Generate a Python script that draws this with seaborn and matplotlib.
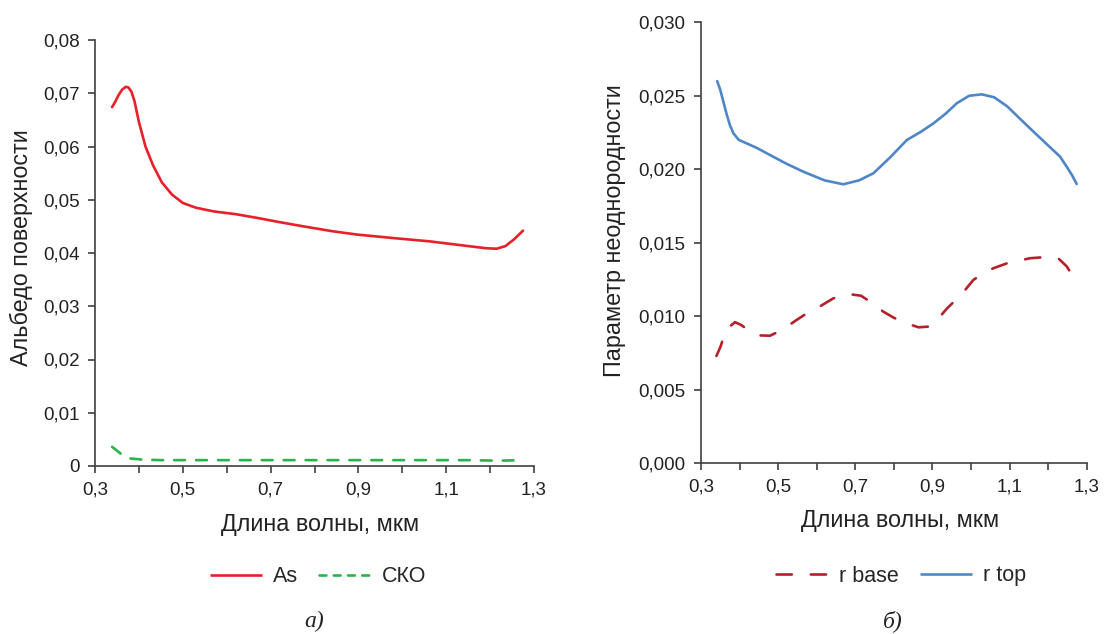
import numpy as np
import pandas as pd
import matplotlib
matplotlib.use("Agg")
import matplotlib.pyplot as plt
import seaborn as sns
from matplotlib.ticker import FixedLocator, FuncFormatter

# --- Surface albedo (panel a) ---
wl_as = [0.339, 0.346, 0.354, 0.362, 0.370, 0.376, 0.383, 0.390, 0.400, 0.415,
         0.432, 0.452, 0.475, 0.500, 0.530, 0.571, 0.620, 0.669, 0.720, 0.775,
         0.840, 0.898, 0.980, 1.061, 1.140, 1.190, 1.215, 1.235, 1.255, 1.275]
albedo = [0.0674, 0.0684, 0.0697, 0.0707, 0.0712, 0.0711, 0.0703, 0.0685, 0.0646, 0.0600,
          0.0565, 0.0533, 0.0510, 0.0494, 0.0485, 0.0478, 0.0473, 0.0466, 0.0458, 0.0450,
          0.0441, 0.04345, 0.0428, 0.0422, 0.0414, 0.0409, 0.0408, 0.0413, 0.0426, 0.0442]

wl_sko = [0.339, 0.362, 0.381, 0.408, 0.45, 0.6, 0.8, 1.0, 1.15, 1.22, 1.275]
sko = [0.0036, 0.0021, 0.0014, 0.0012, 0.0011, 0.0011, 0.0011, 0.0011, 0.0011, 0.0010, 0.0011]

# --- Heterogeneity parameter (panel b) ---
wl_top = [0.342, 0.350, 0.359, 0.367, 0.375, 0.384, 0.398, 0.418, 0.445, 0.479, 0.520,
          0.565, 0.620, 0.669, 0.710, 0.747, 0.790, 0.834, 0.870, 0.903, 0.935,
          0.963, 0.995, 1.028, 1.060, 1.093, 1.162, 1.231, 1.248, 1.262, 1.274]
r_top = [0.0260, 0.0254, 0.0245, 0.0237, 0.0230, 0.02245, 0.0220, 0.02177, 0.02145, 0.02097, 0.02040,
         0.01984, 0.01925, 0.01898, 0.01925, 0.01973, 0.0208, 0.0220, 0.02255, 0.02313, 0.0238,
         0.02449, 0.0250, 0.0251, 0.0249, 0.0243, 0.02256, 0.02086, 0.02018, 0.0196, 0.0190]

wl_base = [0.340, 0.350, 0.358, 0.370, 0.388, 0.405, 0.427, 0.450, 0.479, 0.513,
           0.545, 0.574, 0.610, 0.643, 0.686, 0.715, 0.738, 0.773, 0.800, 0.825,
           0.864, 0.890, 0.912, 0.938, 0.960, 0.981, 1.006, 1.030, 1.058, 1.093,
           1.153, 1.205, 1.228, 1.248, 1.265]
r_base = [0.0073, 0.0079, 0.0085, 0.0092, 0.0096, 0.0094, 0.00895, 0.0087, 0.00868, 0.00911,
          0.0097, 0.0102, 0.0107, 0.01122, 0.0115, 0.0114, 0.0110, 0.01031, 0.0099, 0.00959,
          0.00925, 0.0093, 0.00975, 0.01054, 0.0111, 0.01167, 0.01247, 0.0129, 0.01327, 0.0136,
          0.01395, 0.01405, 0.0139, 0.0134, 0.0127]

x_ticks = [0.3, 0.4, 0.5, 0.6, 0.7, 0.8, 0.9, 1.0, 1.1, 1.2, 1.3]
x_labels = ["0,3", "", "0,5", "", "0,7", "", "0,9", "", "1,1", "", "1,3"]

sns.set_theme(style="ticks")
plt.rcParams["font.family"] = ["Liberation Sans", "DejaVu Sans"]
plt.rcParams["axes.edgecolor"] = "#404040"
plt.rcParams["xtick.color"] = "#404040"
plt.rcParams["ytick.color"] = "#404040"
plt.rcParams["xtick.labelcolor"] = "#222222"
plt.rcParams["ytick.labelcolor"] = "#222222"

W, H = 1106, 634
fig = plt.figure(figsize=(W / 100, H / 100), dpi=100)
ax1 = fig.add_axes([95 / W, 1 - 466 / H, 439 / W, 426 / H])
ax2 = fig.add_axes([701 / W, 1 - 463.3 / H, 385.7 / W, 441 / H])

lw = 1.9
df_as = pd.DataFrame({"x": wl_as, "y": albedo})
df_sko = pd.DataFrame({"x": wl_sko, "y": sko})
sns.lineplot(data=df_as, x="x", y="y", ax=ax1, color="#E8202A", lw=lw, label="As")
sns.lineplot(data=df_sko, x="x", y="y", ax=ax1, color="#2BB24C", lw=lw, label="СКО")
ax1.lines[1].set_dashes((4.1, 4.2))

df_base = pd.DataFrame({"x": wl_base, "y": r_base})
df_top = pd.DataFrame({"x": wl_top, "y": r_top})
sns.lineplot(data=df_base, x="x", y="y", ax=ax2, color="#B5202A", lw=lw, label="r base")
sns.lineplot(data=df_top, x="x", y="y", ax=ax2, color="#4F86C6", lw=lw, label="r top")
ax2.lines[0].set_dashes((5.8, 7.2))

for ln in ax1.lines + ax2.lines:
    ln.set_dash_capstyle("round")
    ln.set_solid_capstyle("round")
    ln.set_solid_joinstyle("round")

def style_axis(ax):
    ax.set_xlim(0.3, 1.3)
    ax.xaxis.set_major_locator(FixedLocator(x_ticks))
    ax.set_xticklabels(x_labels)
    for s in ["top", "right"]:
        ax.spines[s].set_visible(False)
    for s in ["left", "bottom"]:
        ax.spines[s].set_linewidth(1.2)
    ax.tick_params(axis="both", direction="out", length=5, width=1.2, labelsize=13.5, pad=6)
    ax.set_xlabel("")
    ax.set_ylabel("")
    ax.get_legend().remove()

style_axis(ax1)
style_axis(ax2)

ax1.set_ylim(0, 0.08)
ax1.yaxis.set_major_locator(FixedLocator(np.arange(0, 0.0801, 0.01)))
ax1.yaxis.set_major_formatter(FuncFormatter(lambda v, p: "0" if abs(v) < 1e-9 else f"{v:.2f}".replace(".", ",")))

ax2.set_ylim(0, 0.030)
ax2.yaxis.set_major_locator(FixedLocator(np.arange(0, 0.0301, 0.005)))
ax2.yaxis.set_major_formatter(FuncFormatter(lambda v, p: f"{v:.3f}".replace(".", ",")))

# Axis titles
title_fs = 16.8
fig.text(320 / W, 1 - 524 / H, "Длина волны, мкм", ha="center", va="center", fontsize=title_fs, color="#222222")
fig.text(900 / W, 1 - 521 / H, "Длина волны, мкм", ha="center", va="center", fontsize=title_fs, color="#222222")
fig.text(21 / W, 1 - 248 / H, "Альбедо поверхности", rotation=90, ha="center", va="center",
         fontsize=title_fs, color="#222222")
fig.text(614 / W, 1 - 231 / H, "Параметр неоднородности", rotation=90, ha="center", va="center",
         fontsize=title_fs, color="#222222")

# Legends below each panel
h1, l1 = ax1.get_legend_handles_labels()
leg1 = fig.legend(h1, l1, loc="center", bbox_to_anchor=(318 / W, 1 - 577 / H), ncol=2, frameon=False,
                  fontsize=15.5, handlelength=2.4, columnspacing=1.0, handletextpad=0.5)
leg1.get_lines()[1].set_dashes((2.6, 2.8))
h2, l2 = ax2.get_legend_handles_labels()
leg2 = fig.legend(h2, l2, loc="center", bbox_to_anchor=(901 / W, 1 - 576 / H), ncol=2, frameon=False,
                  fontsize=15.5, handlelength=2.4, columnspacing=1.0, handletextpad=0.5)
for leg in (leg1, leg2):
    for ln in leg.get_lines():
        ln.set_dash_capstyle("round")
        ln.set_solid_capstyle("butt")

# Panel captions
fig.text(314 / W, 1 - 621 / H, "а)", ha="center", va="center", fontsize=17, style="italic",
         family=["Liberation Serif", "DejaVu Serif"], color="#222222")
fig.text(893 / W, 1 - 621 / H, "б)", ha="center", va="center", fontsize=17, style="italic",
         family=["Liberation Serif", "DejaVu Serif"], color="#222222")

fig.savefig("out.png", dpi=100, facecolor="white")
